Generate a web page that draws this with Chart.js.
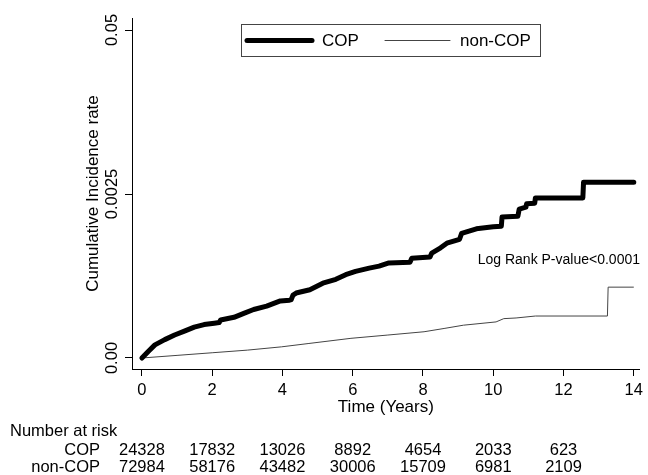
<!DOCTYPE html>
<html>
<head>
<meta charset="utf-8">
<script src="https://cdn.jsdelivr.net/npm/chart.js@4.4.0/dist/chart.umd.min.js"></script>
<style>
  html, body { margin: 0; padding: 0; background: #fff; }
  #wrap { width: 648px; height: 475px; }
</style>
</head>
<body>
<div id="wrap"><canvas id="km"></canvas></div>
<script>
const seriesNames = ["COP", "non-COP"];
const copTimes = [0, 0.18, 0.37, 0.65, 0.93, 1.21, 1.49, 1.77, 2.06, 2.2, 2.24, 2.62, 2.9, 3.18, 3.55, 3.94, 4.2, 4.25, 4.3, 4.39, 4.78, 5.15, 5.52, 5.8, 6.08, 6.47, 6.75, 7.03, 7.63, 7.68, 8.2, 8.25, 8.5, 8.68, 9.04, 9.1, 9.52, 10.0, 10.23, 10.25, 10.7, 10.74, 10.93, 10.95, 11.18, 11.2, 12.55, 12.57, 14];
const copRates = [0, 0.001, 0.002, 0.0028, 0.0035, 0.0041, 0.0047, 0.0051, 0.0053, 0.0054, 0.0058, 0.0062, 0.0068, 0.0074, 0.0079, 0.0087, 0.0088, 0.0089, 0.0096, 0.0099, 0.0104, 0.0114, 0.012, 0.0127, 0.0132, 0.0137, 0.014, 0.0145, 0.0146, 0.0152, 0.0154, 0.016, 0.0168, 0.0175, 0.0181, 0.019, 0.0197, 0.02, 0.0201, 0.0215, 0.0216, 0.0227, 0.023, 0.0235, 0.0236, 0.0244, 0.0244, 0.0268, 0.0268];
const nonTimes = [0, 1, 2, 3, 3.97, 4.73, 5.95, 7, 8.03, 8.6, 9.15, 10.08, 10.3, 10.65, 11.2, 13.25, 13.27, 14];
const nonRates = [0, 0.0004, 0.0008, 0.0012, 0.0017, 0.0022, 0.003, 0.0035, 0.004, 0.0045, 0.005, 0.0055, 0.006, 0.0061, 0.0064, 0.0064, 0.0108, 0.0108];

const xTicks = [0, 2, 4, 6, 8, 10, 12, 14];
const yTicks = [0, 0.025, 0.05];
const yTickLabels = ["0.00", "0.0025", "0.05"];

const riskTimes = [0, 2, 4, 6, 8, 10, 12];
const copRisk = [24328, 17832, 13026, 8892, 4654, 2033, 623];
const nonRisk = [72984, 58176, 43482, 30006, 15709, 6981, 2109];
const pValueText = "Log Rank P-value<0.0001";

const FONT = '"Liberation Sans", Arial, Helvetica, sans-serif';
Chart.defaults.font.family = FONT;
Chart.defaults.color = '#000';

const toPoints = (ts, vs) => ts.map((t, i) => ({ x: t, y: vs[i] }));

// legend, p-value and the number-at-risk table
const annotate = {
  id: 'annotate',
  afterDraw(chart) {
    const { ctx } = chart;
    const x = chart.scales.x;
    const ds = chart.data.datasets;
    ctx.save();
    ctx.fillStyle = '#000';
    ctx.textBaseline = 'middle';

    // legend box
    ctx.strokeStyle = '#444';
    ctx.lineWidth = 1;
    ctx.strokeRect(241.5, 24.5, 299, 32);
    const legendItems = [
      { x0: 247, x1: 312, tx: 322 },
      { x0: 385, x1: 450, tx: 460 }
    ];
    legendItems.forEach((it, i) => {
      ctx.beginPath();
      ctx.strokeStyle = ds[i].borderColor;
      ctx.lineWidth = ds[i].borderWidth;
      ctx.lineCap = 'round';
      ctx.moveTo(it.x0, 40.5);
      ctx.lineTo(it.x1, 40.5);
      ctx.stroke();
      ctx.font = '17px ' + FONT;
      ctx.textAlign = 'left';
      ctx.fillText(seriesNames[i], it.tx, 41);
    });

    ctx.font = '14px ' + FONT;
    ctx.textAlign = 'right';
    ctx.fillText(pValueText, 640, 260);

    ctx.font = '16.5px ' + FONT;
    ctx.textAlign = 'left';
    ctx.fillText('Number at risk', 10, 431);
    ctx.textAlign = 'right';
    ctx.fillText(seriesNames[0], 100, 450);
    ctx.fillText(seriesNames[1], 100, 467);
    ctx.textAlign = 'center';
    riskTimes.forEach((t, i) => {
      const px = x.getPixelForValue(t);
      ctx.fillText(String(copRisk[i]), px, 450);
      ctx.fillText(String(nonRisk[i]), px, 467);
    });
    ctx.restore();
  }
};

new Chart(document.getElementById('km'), {
  type: 'line',
  data: {
    datasets: [
      {
        label: seriesNames[0],
        data: toPoints(copTimes, copRates),
        borderColor: '#000',
        borderWidth: 5,
        borderJoinStyle: 'round',
        borderCapStyle: 'round',
        pointRadius: 0,
        tension: 0
      },
      {
        label: seriesNames[1],
        data: toPoints(nonTimes, nonRates),
        borderColor: '#444',
        borderWidth: 1,
        pointRadius: 0,
        tension: 0
      }
    ]
  },
  options: {
    responsive: true,
    maintainAspectRatio: false,
    animation: false,
    layout: { padding: { top: 18, right: 3, bottom: 57, left: 0 } },
    plugins: { legend: { display: false }, tooltip: { enabled: false } },
    scales: {
      x: {
        type: 'linear',
        min: -0.282,
        max: 14.17,
        afterBuildTicks: s => { s.ticks = xTicks.map(v => ({ value: v })); },
        afterFit: s => { s.height = 49; },
        grid: { drawOnChartArea: false, drawTicks: true, tickLength: 7, color: '#000' },
        border: { color: '#000', width: 1 },
        ticks: { font: { size: 16.5 }, padding: 5, maxRotation: 0, autoSkip: false },
        title: { display: true, text: 'Time (Years)', font: { size: 17 }, padding: { top: 0, bottom: 0 } }
      },
      y: {
        type: 'linear',
        min: -0.001677,
        max: 0.05183,
        afterBuildTicks: s => { s.ticks = yTicks.map(v => ({ value: v })); },
        afterFit: s => { s.width = 132; },
        grid: { drawOnChartArea: false, drawTicks: true, tickLength: 7, color: '#000' },
        border: { color: '#000', width: 1 },
        ticks: {
          font: { size: 16.5 },
          minRotation: 90,
          maxRotation: 90,
          crossAlign: 'center',
          padding: -13,
          autoSkip: false,
          callback: (v, i) => yTickLabels[i]
        },
        title: { display: true, text: 'Cumulative Incidence rate', font: { size: 17 }, padding: { top: 83, bottom: 0 } }
      }
    }
  },
  plugins: [annotate]
});
</script>
</body>
</html>
